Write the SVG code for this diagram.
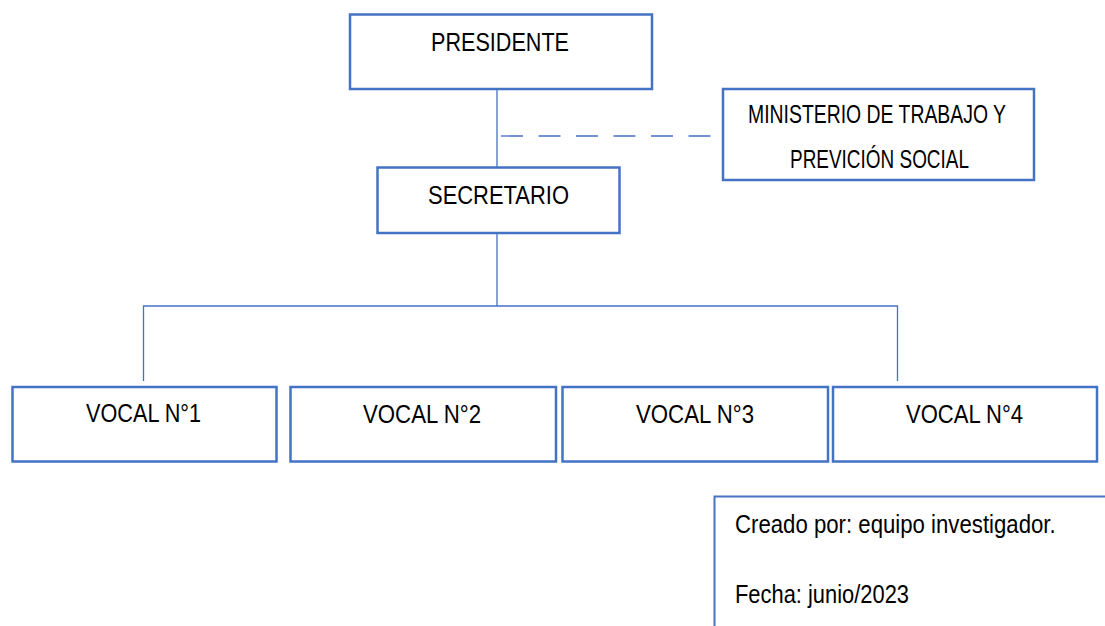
<svg xmlns="http://www.w3.org/2000/svg" width="1105" height="626" viewBox="0 0 1105 626">
<style>
.box{fill:#ffffff;stroke:#4472C4;stroke-width:2.5}
.ln{fill:none;stroke:#4472C4;stroke-width:1.3}
.dash{fill:none;stroke:#4472C4;stroke-width:1.3;stroke-dasharray:22 15.5}
.t{font-family:"Liberation Sans",Arial,sans-serif;font-size:26px;fill:#000000}
</style>
<rect width="1105" height="626" fill="#ffffff"/>
<g id="connectors">
<line class="ln" x1="497" y1="89" x2="497" y2="167"/>
<line class="dash" x1="501" y1="136" x2="716" y2="136"/>
<line class="ln" x1="497" y1="233" x2="497" y2="306"/>
<polyline class="ln" points="143.5,381 143.5,306 897.5,306 897.5,381"/>
</g>
<g id="presidente">
<rect class="box" x="350" y="14.5" width="302" height="74.5"/>
<text class="t" x="431" y="51" textLength="138" lengthAdjust="spacingAndGlyphs">PRESIDENTE</text>
</g>
<g id="ministerio">
<rect class="box" x="723" y="89" width="311" height="91"/>
<text class="t" x="748" y="123" textLength="258" lengthAdjust="spacingAndGlyphs">MINISTERIO DE TRABAJO Y</text>
<text class="t" x="790" y="168" textLength="179" lengthAdjust="spacingAndGlyphs">PREVICIÓN SOCIAL</text>
</g>
<g id="secretario">
<rect class="box" x="377.5" y="167.5" width="242" height="65.5"/>
<text class="t" x="428" y="204" textLength="141" lengthAdjust="spacingAndGlyphs">SECRETARIO</text>
</g>
<g id="vocal1">
<rect class="box" x="12.5" y="387" width="264" height="74.5"/>
<text class="t" x="86" y="422" textLength="115" lengthAdjust="spacingAndGlyphs">VOCAL N°1</text>
</g>
<g id="vocal2">
<rect class="box" x="290.5" y="387" width="265.5" height="74.5"/>
<text class="t" x="363" y="423" textLength="118" lengthAdjust="spacingAndGlyphs">VOCAL N°2</text>
</g>
<g id="vocal3">
<rect class="box" x="562.5" y="387" width="265.5" height="74.5"/>
<text class="t" x="636" y="423" textLength="118" lengthAdjust="spacingAndGlyphs">VOCAL N°3</text>
</g>
<g id="vocal4">
<rect class="box" x="833" y="387" width="264" height="74.5"/>
<text class="t" x="906" y="423" textLength="117" lengthAdjust="spacingAndGlyphs">VOCAL N°4</text>
</g>
<g id="nota">
<path d="M714.5,626 V496.5 H1105" fill="none" stroke="#4472C4" stroke-width="2"/>
<text class="t" transform="translate(735,533) scale(0.854,1)" x="0" y="0">Creado por: equipo investigador.</text>
<text class="t" x="735" y="603" textLength="174" lengthAdjust="spacingAndGlyphs">Fecha: junio/2023</text>
</g>
</svg>
